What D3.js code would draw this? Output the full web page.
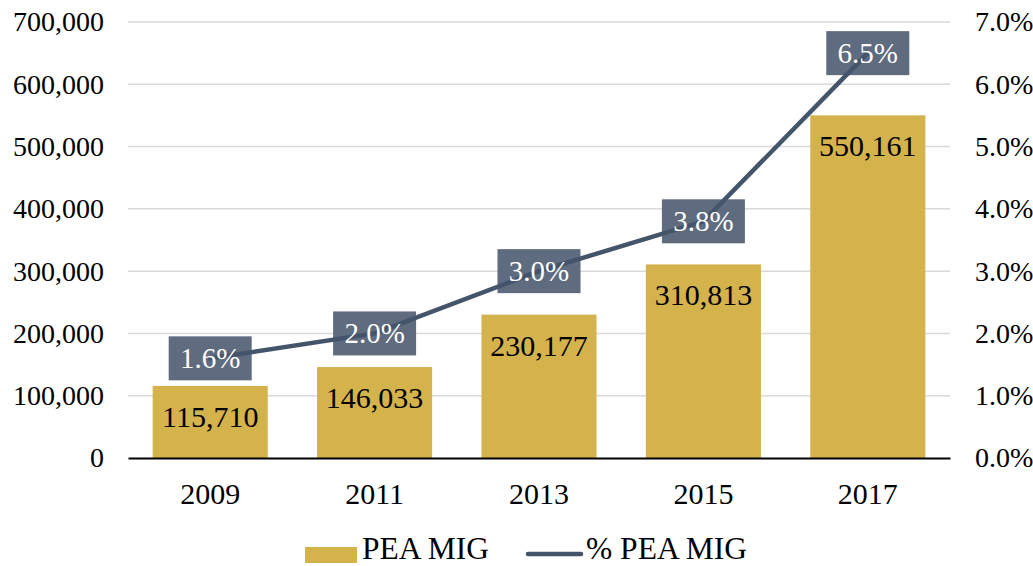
<!DOCTYPE html>
<html>
<head>
<meta charset="utf-8">
<script src="https://cdn.jsdelivr.net/npm/d3@7"></script>
<style>
  body { margin: 0; background: #fff; }
  text { font-family: "Liberation Serif", "Times New Roman", serif; }
</style>
</head>
<body>
<div id="chart"></div>
<script>
// data
const years = ["2009", "2011", "2013", "2015", "2017"];
const peaMig = [115710, 146033, 230177, 310813, 550161];
const pctPeaMig = [1.6, 2.0, 3.0, 3.8, 6.5];
const leftTicks = [0, 100000, 200000, 300000, 400000, 500000, 600000, 700000];
const rightTicks = [0, 1, 2, 3, 4, 5, 6, 7];

const W = 1033, H = 566;
const margin = {top: 22, right: 83, bottom: 108, left: 128};
const width = W - margin.left - margin.right,
      height = H - margin.top - margin.bottom;

const svg = d3.select("#chart")
  .append("svg")
  .attr("width", W)
  .attr("height", H);

const g = svg.append("g")
  .attr("transform", "translate(" + margin.left + "," + margin.top + ")");

const x = d3.scaleBand().domain(years).range([0, width]).paddingInner(0.3).paddingOuter(0.15);
const y = d3.scaleLinear().domain([0, 700000]).range([height, 0]);
const y2 = d3.scaleLinear().domain([0, 7]).range([height, 0]);

// gridlines
g.append("g")
  .selectAll("line")
  .data(leftTicks.slice(1))
  .enter()
  .append("line")
    .attr("x1", 0).attr("x2", width)
    .attr("y1", d => y(d)).attr("y2", d => y(d))
    .style("stroke", "#d9d9d9")
    .style("stroke-width", 1.5);

// left axis
const fmt = d3.format(",");
g.append("g")
  .call(d3.axisLeft(y).tickValues(leftTicks).tickFormat(fmt).tickSize(0).tickPadding(24))
  .call(a => a.select(".domain").remove())
  .selectAll("text")
    .style("font-size", "28px")
    .style("fill", "#000")
    .attr("font-family", null);

// right axis
g.append("g")
  .attr("transform", "translate(" + width + ",0)")
  .call(d3.axisRight(y2).tickValues(rightTicks).tickFormat(d => d.toFixed(1) + "%").tickSize(0).tickPadding(25))
  .call(a => a.select(".domain").remove())
  .selectAll("text")
    .style("font-size", "28px")
    .style("fill", "#000")
    .attr("font-family", null);

// bars
g.selectAll("rect.bar")
  .data(peaMig)
  .enter()
  .append("rect")
    .attr("class", "bar")
    .attr("x", (d, i) => x(years[i]))
    .attr("y", d => y(d))
    .attr("width", x.bandwidth())
    .attr("height", d => height - y(d))
    .style("fill", "#d4b24c");

// bar labels
g.selectAll("text.barlab")
  .data(peaMig)
  .enter()
  .append("text")
    .attr("class", "barlab")
    .attr("x", (d, i) => x(years[i]) + x.bandwidth() / 2)
    .attr("y", d => y(d) + 41)
    .attr("text-anchor", "middle")
    .style("font-size", "30px")
    .style("fill", "#000")
    .text(d => fmt(d));

// x axis
g.append("g")
  .attr("transform", "translate(0," + height + ")")
  .call(d3.axisBottom(x).tickSize(0).tickPadding(25))
  .call(a => a.select(".domain").style("stroke", "#000").style("stroke-width", 2))
  .selectAll("text")
    .style("font-size", "30px")
    .style("fill", "#000")
    .attr("font-family", null);

// line label boxes
const cx = i => x(years[i]) + x.bandwidth() / 2;
g.selectAll("rect.lab")
  .data(pctPeaMig)
  .enter()
  .append("rect")
    .attr("class", "lab")
    .attr("x", (d, i) => cx(i) - 41.5)
    .attr("y", d => y2(d) - 22)
    .attr("width", 83)
    .attr("height", 44)
    .style("fill", "#5f6b7e");

// line
const line = d3.line()
  .x((d, i) => cx(i))
  .y(d => y2(d));
g.append("path")
  .datum(pctPeaMig)
  .attr("d", line)
  .style("fill", "none")
  .style("stroke", "#44546a")
  .style("stroke-width", 4.5)
  .style("stroke-linecap", "round");

g.selectAll("text.pct")
  .data(pctPeaMig)
  .enter()
  .append("text")
    .attr("class", "pct")
    .attr("x", (d, i) => cx(i))
    .attr("y", d => y2(d) + 10)
    .attr("text-anchor", "middle")
    .style("font-size", "29px")
    .style("fill", "#fff")
    .text(d => d.toFixed(1) + "%");

// legend
const leg = svg.append("g");
leg.append("rect")
  .attr("x", 305).attr("y", 547).attr("width", 52).attr("height", 16)
  .style("fill", "#d4b24c");
leg.append("text")
  .attr("x", 362).attr("y", 559)
  .style("font-size", "31.5px")
  .text("PEA MIG");
leg.append("line")
  .attr("x1", 528).attr("x2", 581).attr("y1", 554).attr("y2", 554)
  .style("stroke", "#44546a").style("stroke-width", 4.5).style("stroke-linecap", "round");
leg.append("text")
  .attr("x", 586).attr("y", 559)
  .style("font-size", "31.5px")
  .text("% PEA MIG");
</script>
</body>
</html>
